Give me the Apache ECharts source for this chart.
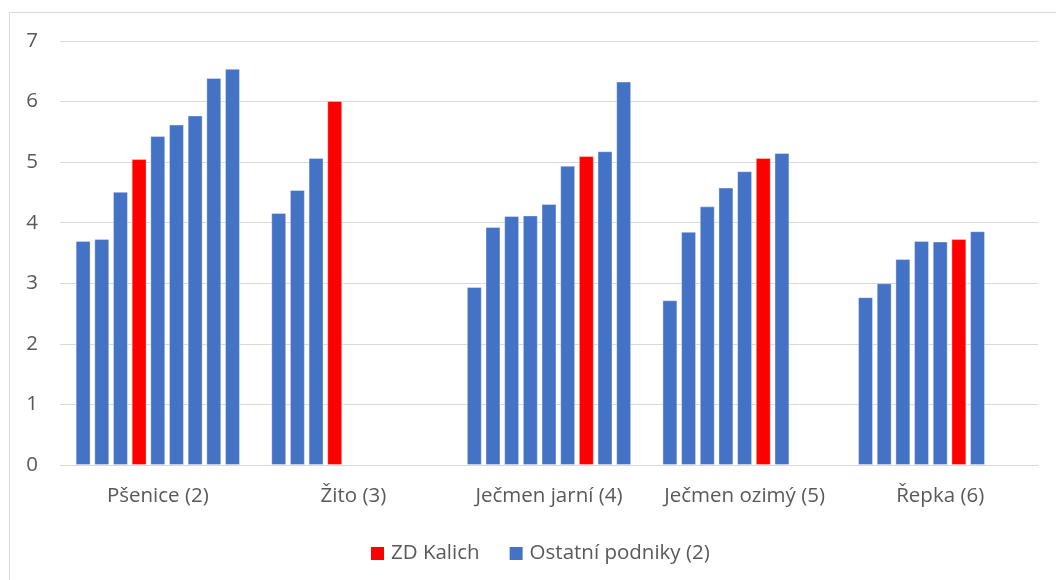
<!DOCTYPE html>
<html>
<head>
<meta charset="utf-8">
<script src="https://cdn.jsdelivr.net/npm/echarts@6/dist/echarts.min.js"></script>
<style>html,body{margin:0;padding:0;background:#fff}#c{width:1056px;height:580px}</style>
</head>
<body>
<div id="c"></div>
<script>
const categories = ['Pšenice (2)', 'Žito (3)', 'Ječmen jarní (4)', 'Ječmen ozimý (5)', 'Řepka (6)'];
const psenice = [3.70, 3.73, 4.51, 5.05, 5.43, 5.62, 5.77, 6.39, 6.54];
const zito = [4.16, 4.54, 5.07, 6.01];
const jecmenJarni = [2.94, 3.93, 4.11, 4.12, 4.31, 4.94, 5.10, 5.18, 6.33];
const jecmenOzimy = [2.72, 3.85, 4.27, 4.58, 4.85, 5.07, 5.15];
const repka = [2.77, 3.00, 3.40, 3.70, 3.69, 3.73, 3.86];
// position of ZD Kalich bar within each category
const kalichIndex = [3, 3, 6, 5, 5];
const legendNames = ['ZD Kalich', 'Ostatní podniky (2)'];
const yTicks = [0, 1, 2, 3, 4, 5, 6, 7];

const RED = '#FF0000', BLUE = '#4472C4', TXT = '#595959', GRID = '#D9D9D9';
const groups = [psenice, zito, jecmenJarni, jecmenOzimy, repka];
const nSlots = Math.max(...groups.map(g => g.length));
const FONT = 'Open Sans';

const series = [];
for (let j = 0; j < nSlots; j++) {
  series.push({
    type: 'bar',
    name: 'slot' + j,
    barGap: '25%',
    barCategoryGap: '16%',
    data: groups.map((g, i) => g[j] === undefined ? null : {
      value: g[j],
      itemStyle: { color: kalichIndex[i] === j ? RED : BLUE }
    }),
    itemStyle: { borderColor: 'rgba(255,255,255,0.35)', borderWidth: 1 },
    emphasis: { disabled: true },
    silent: true
  });
}
series.push({ type: 'scatter', name: legendNames[0], data: [], itemStyle: { color: RED, opacity: 1 } });
series.push({ type: 'scatter', name: legendNames[1], data: [], itemStyle: { color: BLUE, opacity: 1 } });

const chart = echarts.init(document.getElementById('c'), null, { renderer: 'canvas' });
chart.setOption({
  animation: false,
  backgroundColor: '#fff',
  textStyle: { fontFamily: FONT },
  graphic: [{
    type: 'rect', silent: true,
    shape: { x: 9.5, y: 12.5, width: 1200, height: 800 },
    style: { fill: 'none', stroke: GRID, lineWidth: 1 }
  }],
  grid: { left: 60, right: 18, top: 41, bottom: 115, containLabel: false },
  legend: {
    data: legendNames,
    top: 538,
    left: 366,
    icon: 'rect',
    itemWidth: 13,
    itemHeight: 13,
    itemGap: 30,
    itemStyle: { opacity: 1 },
    textStyle: { color: TXT, fontSize: 20.5, fontFamily: FONT, padding: [0, 0, 0, 2] },
    selectedMode: false
  },
  xAxis: {
    type: 'category',
    data: categories,
    axisLine: { show: true, lineStyle: { color: GRID, width: 1 } },
    axisTick: { show: false },
    axisLabel: { color: TXT, fontSize: 20.5, margin: 21, fontFamily: FONT, interval: 0, hideOverlap: false }
  },
  yAxis: {
    type: 'value',
    min: yTicks[0],
    max: yTicks[yTicks.length - 1],
    interval: 1,
    axisLine: { show: false },
    axisTick: { show: false },
    splitLine: { lineStyle: { color: GRID, width: 1 } },
    axisLabel: { color: TXT, fontSize: 20.5, margin: 22, fontFamily: FONT }
  },
  series: series
});
</script>
</body>
</html>
